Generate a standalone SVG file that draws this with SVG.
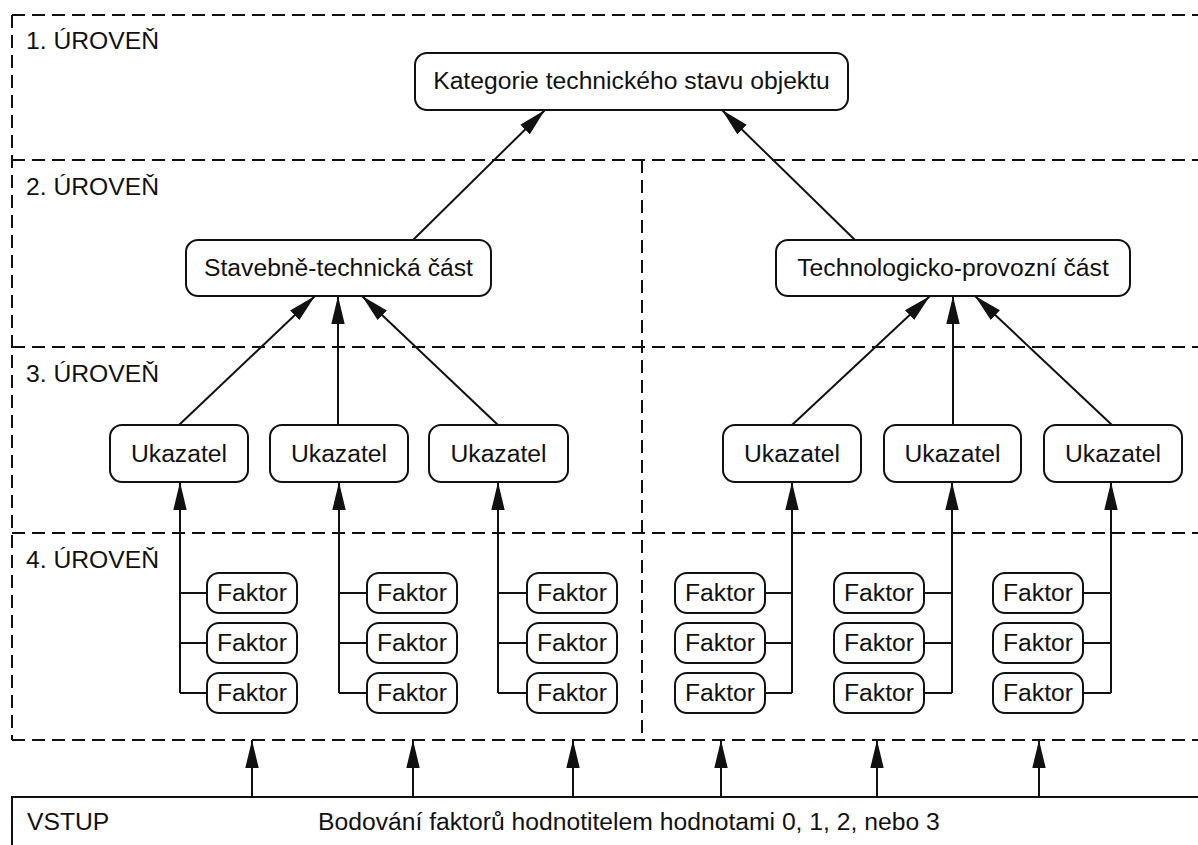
<svg xmlns="http://www.w3.org/2000/svg" width="1198" height="845" viewBox="0 0 1198 845">
<style>
.dash{stroke:#111;stroke-width:2;stroke-dasharray:13 7;fill:none}
.box{fill:#fff;stroke:#111;stroke-width:2}
.t{font-family:"Liberation Sans",Arial,sans-serif;font-size:24.7px;fill:#111}
.c{text-anchor:middle}
.ln{stroke:#111;stroke-width:2;fill:none}
.ar{stroke:#111;stroke-width:2;fill:none;marker-end:url(#ah)}
</style>
<defs>
<marker id="ah" markerUnits="userSpaceOnUse" markerWidth="28" markerHeight="14" refX="28" refY="7" orient="auto">
<path d="M0,0.3 L28,7 L0,13.7 z" fill="#111"/>
</marker>
</defs>
<rect width="1198" height="845" fill="#fff"/>
<g id="levels">
<path class="dash" d="M12,15 H1198 M12,160 H1198 M12,347 H1198 M12,533 H1198 M12,740 H1198 M12,15 V740 M642,160 V740"/>
<text class="t" x="26" y="49">1. ÚROVEŇ</text>
<text class="t" x="26" y="195">2. ÚROVEŇ</text>
<text class="t" x="26" y="382">3. ÚROVEŇ</text>
<text class="t" x="26" y="568">4. ÚROVEŇ</text>
</g>
<g id="connectors">
<line class="ar" x1="413" y1="240" x2="545" y2="110"/>
<line class="ar" x1="855" y1="240" x2="722" y2="110"/>
<line class="ar" x1="179" y1="425" x2="315" y2="296"/>
<line class="ar" x1="338" y1="425" x2="338" y2="296"/>
<line class="ar" x1="498" y1="425" x2="362" y2="296"/>
<line class="ar" x1="792" y1="425" x2="930" y2="296"/>
<line class="ar" x1="953" y1="425" x2="953" y2="296"/>
<line class="ar" x1="1112" y1="425" x2="975" y2="296"/>
<line class="ar" x1="180" y1="693" x2="180" y2="482"/>
<line class="ar" x1="339" y1="693" x2="339" y2="482"/>
<line class="ar" x1="498" y1="693" x2="498" y2="482"/>
<line class="ar" x1="792" y1="693" x2="792" y2="482"/>
<line class="ar" x1="952" y1="693" x2="952" y2="482"/>
<line class="ar" x1="1111" y1="693" x2="1111" y2="482"/>
<path class="ln" d="M180,593 H207 M180,643 H207 M180,693 H207 M339,593 H367 M339,643 H367 M339,693 H367 M498,593 H527 M498,643 H527 M498,693 H527"/>
<path class="ln" d="M765,593 H792 M765,643 H792 M765,693 H792 M924,593 H952 M924,643 H952 M924,693 H952 M1083,593 H1111 M1083,643 H1111 M1083,693 H1111"/>
<line class="ar" x1="252" y1="797" x2="252" y2="740"/>
<line class="ar" x1="413" y1="797" x2="413" y2="740"/>
<line class="ar" x1="573" y1="797" x2="573" y2="740"/>
<line class="ar" x1="721" y1="797" x2="721" y2="740"/>
<line class="ar" x1="877" y1="797" x2="877" y2="740"/>
<line class="ar" x1="1039" y1="797" x2="1039" y2="740"/>
</g>
<g id="top">
<rect class="box" x="415" y="53" width="433" height="57" rx="12"/>
<text class="t c" x="631.5" y="89">Kategorie technického stavu objektu</text>
</g>
<g id="stavebne">
<rect class="box" x="186" y="240" width="305" height="56" rx="12"/>
<text class="t c" x="338.5" y="276">Stavebně-technická část</text>
</g>
<g id="technologicko">
<rect class="box" x="776" y="240" width="354" height="56" rx="12"/>
<text class="t c" x="953" y="276">Technologicko-provozní část</text>
</g>
<g id="ukazatel-1"><rect class="box" x="110" y="425" width="138" height="57" rx="12"/><text class="t c" x="179" y="462">Ukazatel</text></g>
<g id="ukazatel-2"><rect class="box" x="270" y="425" width="138" height="57" rx="12"/><text class="t c" x="339" y="462">Ukazatel</text></g>
<g id="ukazatel-3"><rect class="box" x="429" y="425" width="139" height="57" rx="12"/><text class="t c" x="498.5" y="462">Ukazatel</text></g>
<g id="ukazatel-4"><rect class="box" x="723" y="425" width="138" height="57" rx="12"/><text class="t c" x="792" y="462">Ukazatel</text></g>
<g id="ukazatel-5"><rect class="box" x="884" y="425" width="137" height="57" rx="12"/><text class="t c" x="952.5" y="462">Ukazatel</text></g>
<g id="ukazatel-6"><rect class="box" x="1044" y="425" width="138" height="57" rx="12"/><text class="t c" x="1113" y="462">Ukazatel</text></g>
<g id="faktory-1">
<rect class="box" x="207" y="573" width="90" height="40" rx="12"/><text class="t c" x="252" y="601">Faktor</text>
<rect class="box" x="207" y="623" width="90" height="40" rx="12"/><text class="t c" x="252" y="651">Faktor</text>
<rect class="box" x="207" y="673" width="90" height="40" rx="12"/><text class="t c" x="252" y="701">Faktor</text>
</g>
<g id="faktory-2">
<rect class="box" x="367" y="573" width="90" height="40" rx="12"/><text class="t c" x="412" y="601">Faktor</text>
<rect class="box" x="367" y="623" width="90" height="40" rx="12"/><text class="t c" x="412" y="651">Faktor</text>
<rect class="box" x="367" y="673" width="90" height="40" rx="12"/><text class="t c" x="412" y="701">Faktor</text>
</g>
<g id="faktory-3">
<rect class="box" x="527" y="573" width="90" height="40" rx="12"/><text class="t c" x="572" y="601">Faktor</text>
<rect class="box" x="527" y="623" width="90" height="40" rx="12"/><text class="t c" x="572" y="651">Faktor</text>
<rect class="box" x="527" y="673" width="90" height="40" rx="12"/><text class="t c" x="572" y="701">Faktor</text>
</g>
<g id="faktory-4">
<rect class="box" x="675" y="573" width="90" height="40" rx="12"/><text class="t c" x="720" y="601">Faktor</text>
<rect class="box" x="675" y="623" width="90" height="40" rx="12"/><text class="t c" x="720" y="651">Faktor</text>
<rect class="box" x="675" y="673" width="90" height="40" rx="12"/><text class="t c" x="720" y="701">Faktor</text>
</g>
<g id="faktory-5">
<rect class="box" x="834" y="573" width="90" height="40" rx="12"/><text class="t c" x="879" y="601">Faktor</text>
<rect class="box" x="834" y="623" width="90" height="40" rx="12"/><text class="t c" x="879" y="651">Faktor</text>
<rect class="box" x="834" y="673" width="90" height="40" rx="12"/><text class="t c" x="879" y="701">Faktor</text>
</g>
<g id="faktory-6">
<rect class="box" x="993" y="573" width="90" height="40" rx="12"/><text class="t c" x="1038" y="601">Faktor</text>
<rect class="box" x="993" y="623" width="90" height="40" rx="12"/><text class="t c" x="1038" y="651">Faktor</text>
<rect class="box" x="993" y="673" width="90" height="40" rx="12"/><text class="t c" x="1038" y="701">Faktor</text>
</g>
<g id="vstup">
<rect class="box" x="12" y="797" width="1200" height="60"/>
<text class="t" x="27" y="830">VSTUP</text>
<text class="t" x="318" y="830">Bodování faktorů hodnotitelem hodnotami 0, 1, 2, nebo 3</text>
</g>
</svg>
